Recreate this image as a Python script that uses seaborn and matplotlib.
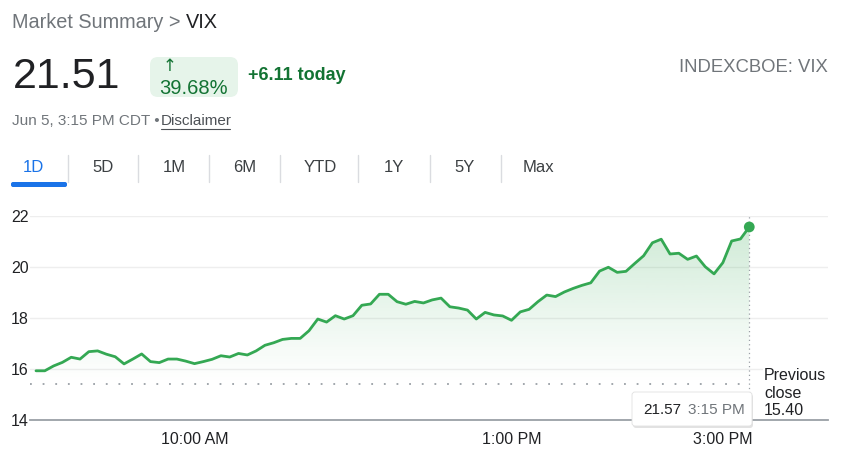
import numpy as np
import pandas as pd
import seaborn as sns
import matplotlib.pyplot as plt
import matplotlib.dates as mdates
from matplotlib.colors import to_rgb
from matplotlib.patches import FancyBboxPatch
from matplotlib.transforms import Affine2D

# VIX intraday, 5 minute steps from 8:30 AM CDT
vix = [15.93, 15.93, 16.12, 16.26, 16.46, 16.39, 16.68, 16.71, 16.58, 16.48,
       16.20, 16.39, 16.59, 16.29, 16.25, 16.39, 16.39, 16.31, 16.21, 16.29,
       16.38, 16.52, 16.47, 16.61, 16.55, 16.71, 16.93, 17.03, 17.16, 17.20,
       17.20, 17.50, 17.96, 17.84, 18.09, 17.96, 18.09, 18.50, 18.55, 18.93,
       18.93, 18.64, 18.54, 18.65, 18.59, 18.71, 18.78, 18.44, 18.39, 18.31,
       17.96, 18.22, 18.12, 18.08, 17.91, 18.24, 18.34, 18.64, 18.90, 18.84,
       19.02, 19.16, 19.28, 19.38, 19.84, 19.99, 19.79, 19.83, 20.14, 20.44,
       20.95, 21.09, 20.51, 20.54, 20.30, 20.43, 20.01, 19.73, 20.17, 21.02,
       21.10, 21.57]
prev_close = 15.40
y_ticks = [14, 16, 18, 20, 22]
x_tick_times = ["2024-06-05 10:00", "2024-06-05 13:00", "2024-06-05 15:00"]
x_tick_labels = ["10:00 AM", "1:00 PM", "3:00 PM"]
tabs = ["1D", "5D", "1M", "6M", "YTD", "1Y", "5Y", "Max"]

df = pd.DataFrame({
    "time": pd.date_range("2024-06-05 08:30", periods=len(vix), freq="5min"),
    "vix": vix,
})

GREEN = "#34a853"
DARK = "#202124"
GRAY = "#70757a"
W, H = 846, 467

sns.set_style("white")
plt.rcParams["font.family"] = ["Liberation Sans", "DejaVu Sans"]

fig = plt.figure(figsize=(W / 100, H / 100), dpi=100)
# pixel coords, origin top-left
px = Affine2D().scale(1, -1).translate(0, H)

ax = fig.add_axes([30 / W, 1 - 420 / H, (828 - 30) / W, (420 - 216) / H])

x_lo = pd.Timestamp("2024-06-05 08:26:36")
x_hi = pd.Timestamp("2024-06-05 15:59:42")

# gradient under the line
xn = mdates.date2num(df["time"])
rgba = np.zeros((256, 1, 4))
rgba[..., :3] = to_rgb(GREEN)
rgba[..., 3] = np.linspace(0, 0.27, 256).reshape(-1, 1) ** 1.1
im = ax.imshow(rgba, aspect="auto", origin="lower",
               extent=[xn[0], xn[-1], prev_close, max(vix)], zorder=1)
poly = ax.fill_between(xn, vix, prev_close, color="none", lw=0)
im.set_clip_path(poly.get_paths()[0], transform=ax.transData)

sns.lineplot(data=df, x="time", y="vix", color=GREEN, lw=2.0, ax=ax, zorder=3)
sns.scatterplot(x=df["time"].iloc[-1:], y=df["vix"].iloc[-1:], color=GREEN,
                s=60, edgecolor="none", ax=ax, zorder=4, clip_on=False)

# previous close + cursor guide
ax.plot([x_lo, df["time"].iloc[-1]], [prev_close, prev_close], color="#9aa0a6",
        lw=1.3, ls=(0, (1, 6)), zorder=2)
ax.plot([df["time"].iloc[-1]] * 2, [15.06, 22], color="#9aa0a6", lw=0.9,
        ls=(0, (1, 2.5)), zorder=2, clip_on=False)

ax.set_xlim(x_lo, x_hi)
ax.set_ylim(14, 22)
ax.set_yticks(y_ticks)
ax.set_xticks(pd.to_datetime(x_tick_times))
ax.set_xticklabels(x_tick_labels)
ax.set_xlabel("")
ax.set_ylabel("")
ax.grid(axis="y", color="#eeeeee", lw=1)
for s in ["top", "right", "left"]:
    ax.spines[s].set_visible(False)
ax.spines["bottom"].set_color("#9aa0a6")
ax.spines["bottom"].set_linewidth(1.3)
ax.tick_params(axis="x", length=7, width=1, color="#9aa0a6", pad=1.5,
               labelsize=11.5, labelcolor=DARK)
ax.tick_params(axis="y", length=0, pad=1, labelsize=11.5, labelcolor=DARK)

# header
def txt(x, y, s, **kw):
    fig.text(x, y, s, transform=px, va="center", **kw)

txt(12, 22, "Market Summary >", fontsize=14.3, color=GRAY)
txt(186, 22, "VIX", fontsize=14.3, color=DARK)
txt(13, 77, "21.51", fontsize=31, color=DARK)
fig.patches.append(FancyBboxPatch((150, 57), 88, 40, boxstyle="round,pad=0,rounding_size=8",
                                  transform=px, fc="#e6f4ea", ec="none"))
txt(163, 66, "↑", fontsize=12, color="#137333", family="DejaVu Sans")
txt(159, 88, "39.68%", fontsize=14.5, color="#137333")
txt(248, 76, "+6.11 today", fontsize=13, color="#137333", fontweight="bold")
txt(828, 67, "INDEXCBOE: VIX", fontsize=13.3, color=GRAY, ha="right")
txt(12, 121, "Jun 5, 3:15 PM CDT •", fontsize=11, color=GRAY)
txt(161, 121, "Disclaimer", fontsize=11, color="#4d5156")
fig.add_artist(plt.Line2D([161, 230], [129, 129], transform=px, color="#4d5156", lw=0.8))

# tabs
tab_x = [33, 103, 174, 245, 320, 394, 465, 538]
for i, (t, x) in enumerate(zip(tabs, tab_x)):
    txt(x, 168, t, fontsize=12, color="#1a73e8" if i == 0 else "#3c4043", ha="center")
for x in [68, 138, 209, 280, 358, 430, 501]:
    fig.add_artist(plt.Line2D([x, x], [155, 182], transform=px, color="#dadce0", lw=1))
fig.patches.append(FancyBboxPatch((11, 182), 56, 5, boxstyle="round,pad=0,rounding_size=2",
                                  transform=px, fc="#1a73e8", ec="none"))

# tooltip
fig.patches.append(FancyBboxPatch((633, 394), 120, 34, boxstyle="round,pad=0,rounding_size=3",
                                  transform=px, fc="#d0d0d0", ec="none", alpha=0.6, zorder=5))
fig.patches.append(FancyBboxPatch((632, 392), 120, 34, boxstyle="round,pad=0,rounding_size=3",
                                  transform=px, fc="white", ec="#e0e0e0", lw=0.6, zorder=6))
fig.text(643, 410, "21.57", transform=px, va="center", fontsize=11, color=DARK, zorder=7)
fig.text(688, 410, "3:15 PM", transform=px, va="center", fontsize=11, color=GRAY, zorder=7)

fig.text(764, 393, "Previous\nclose\n15.40", transform=px, va="center", fontsize=11.5,
         color=DARK, linespacing=1.2,
         bbox=dict(fc="white", ec="none", pad=1), zorder=7)

fig.savefig("out.png", dpi=100)
